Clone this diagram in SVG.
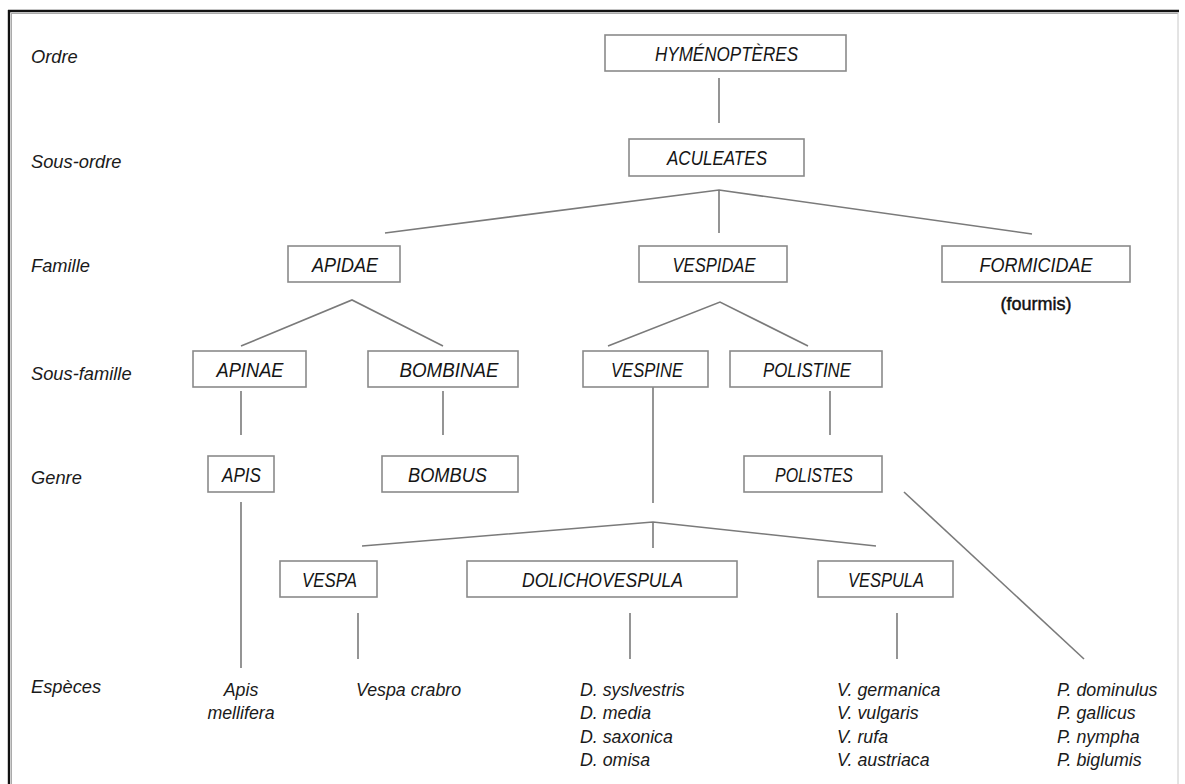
<svg xmlns="http://www.w3.org/2000/svg" width="1185" height="784" viewBox="0 0 1185 784">
<style>
.bg{fill:#ffffff}
.box{fill:#ffffff;stroke:#8a8a8a;stroke-width:1.6}
.nt{font-family:"Liberation Sans",Arial,sans-serif;font-style:italic;font-size:20.5px;fill:#151515;text-anchor:middle}
.lb{font-family:"Liberation Sans",Arial,sans-serif;font-style:italic;font-size:18.3px;fill:#1a1a1a}
.sp{font-family:"Liberation Sans",Arial,sans-serif;font-style:italic;font-size:17.8px;fill:#1a1a1a}
.spc{text-anchor:middle}
.fm{font-family:"Liberation Sans",Arial,sans-serif;font-size:18px;fill:#111;stroke:#111;stroke-width:0.45;text-anchor:middle}
.ln{stroke:#7a7a7a;stroke-width:1.6;fill:none}
</style>
<rect class="bg" x="0" y="0" width="1185" height="784"/>
<g id="frame">
<line x1="8" y1="11" x2="1179" y2="11" stroke="#111" stroke-width="2.4"/>
<line x1="9" y1="10" x2="9" y2="784" stroke="#111" stroke-width="2.4"/>
<line x1="11" y1="13.5" x2="1178" y2="13.5" stroke="#aaa" stroke-width="1"/>
<line x1="11.5" y1="13" x2="11.5" y2="784" stroke="#aaa" stroke-width="1"/>
<line x1="1178" y1="13" x2="1178" y2="784" stroke="#c8c8c8" stroke-width="1"/>
</g>
<g id="rank-labels">
<text class="lb" x="31" y="63">Ordre</text>
<text class="lb" x="31" y="168">Sous-ordre</text>
<text class="lb" x="31" y="272">Famille</text>
<text class="lb" x="31" y="380">Sous-famille</text>
<text class="lb" x="31" y="484">Genre</text>
<text class="lb" x="31" y="693">Espèces</text>
</g>
<g id="connectors">
<line class="ln" x1="719" y1="78" x2="719" y2="123"/>
<polyline class="ln" points="385,233 719,190 1032,234"/>
<line class="ln" x1="719" y1="190" x2="719" y2="233"/>
<polyline class="ln" points="241,346 352,300 443,346"/>
<polyline class="ln" points="608,346 720,302 808,346"/>
<line class="ln" x1="241" y1="391" x2="241" y2="435"/>
<line class="ln" x1="443" y1="391" x2="443" y2="435"/>
<line class="ln" x1="830" y1="391" x2="830" y2="435"/>
<line class="ln" x1="653" y1="387" x2="653" y2="503"/>
<polyline class="ln" points="362,546 653,522 876,546"/>
<line class="ln" x1="653" y1="522" x2="653" y2="548"/>
<line class="ln" x1="241" y1="502" x2="241" y2="668"/>
<line class="ln" x1="358" y1="613" x2="358" y2="659"/>
<line class="ln" x1="630" y1="613" x2="630" y2="659"/>
<line class="ln" x1="897" y1="613" x2="897" y2="659"/>
<line class="ln" x1="904" y1="492" x2="1084" y2="659"/>
</g>
<g id="n-hymenopteres"><rect class="box" x="605" y="35" width="241" height="36"/><text class="nt" x="726.5" y="60.5" textLength="143" lengthAdjust="spacingAndGlyphs">HYMÉNOPTÈRES</text></g>
<g id="n-aculeates"><rect class="box" x="629" y="139" width="175" height="37"/><text class="nt" x="717" y="165" textLength="100" lengthAdjust="spacingAndGlyphs">ACULEATES</text></g>
<g id="n-apidae"><rect class="box" x="288" y="246" width="112" height="36"/><text class="nt" x="345" y="271.5" textLength="66" lengthAdjust="spacingAndGlyphs">APIDAE</text></g>
<g id="n-vespidae"><rect class="box" x="639" y="246" width="148" height="36"/><text class="nt" x="714" y="271.5" textLength="83" lengthAdjust="spacingAndGlyphs">VESPIDAE</text></g>
<g id="n-formicidae"><rect class="box" x="942" y="246" width="188" height="36"/><text class="nt" x="1036" y="271.5" textLength="113" lengthAdjust="spacingAndGlyphs">FORMICIDAE</text><text class="fm" x="1036" y="310">(fourmis)</text></g>
<g id="n-apinae"><rect class="box" x="193" y="351" width="113" height="36"/><text class="nt" x="250" y="376.5" textLength="67" lengthAdjust="spacingAndGlyphs">APINAE</text></g>
<g id="n-bombinae"><rect class="box" x="368" y="351" width="150" height="36"/><text class="nt" x="449" y="376.5" textLength="99" lengthAdjust="spacingAndGlyphs">BOMBINAE</text></g>
<g id="n-vespine"><rect class="box" x="583" y="351" width="125" height="36"/><text class="nt" x="647" y="376.5" textLength="72" lengthAdjust="spacingAndGlyphs">VESPINE</text></g>
<g id="n-polistine"><rect class="box" x="730" y="351" width="152" height="36"/><text class="nt" x="807" y="376.5" textLength="88" lengthAdjust="spacingAndGlyphs">POLISTINE</text></g>
<g id="n-apis"><rect class="box" x="208" y="456" width="66" height="36"/><text class="nt" x="241.5" y="481.5" textLength="39" lengthAdjust="spacingAndGlyphs">APIS</text></g>
<g id="n-bombus"><rect class="box" x="382" y="456" width="136" height="36"/><text class="nt" x="447.5" y="481.5" textLength="79" lengthAdjust="spacingAndGlyphs">BOMBUS</text></g>
<g id="n-polistes"><rect class="box" x="744" y="456" width="138" height="36"/><text class="nt" x="814" y="481.5" textLength="78" lengthAdjust="spacingAndGlyphs">POLISTES</text></g>
<g id="n-vespa"><rect class="box" x="280" y="561" width="97" height="36"/><text class="nt" x="329.5" y="586.5" textLength="55" lengthAdjust="spacingAndGlyphs">VESPA</text></g>
<g id="n-dolichovespula"><rect class="box" x="467" y="561" width="270" height="36"/><text class="nt" x="602.5" y="586.5" textLength="161" lengthAdjust="spacingAndGlyphs">DOLICHOVESPULA</text></g>
<g id="n-vespula"><rect class="box" x="818" y="561" width="135" height="36"/><text class="nt" x="886" y="586.5" textLength="76" lengthAdjust="spacingAndGlyphs">VESPULA</text></g>
<g id="species">
<text class="sp spc" x="241" y="696">Apis</text>
<text class="sp spc" x="241" y="719">mellifera</text>
<text class="sp" x="356" y="696">Vespa crabro</text>
<text class="sp" x="580" y="696">D. syslvestris</text>
<text class="sp" x="580" y="719">D. media</text>
<text class="sp" x="580" y="743">D. saxonica</text>
<text class="sp" x="580" y="766">D. omisa</text>
<text class="sp" x="837" y="696">V. germanica</text>
<text class="sp" x="837" y="719">V. vulgaris</text>
<text class="sp" x="837" y="743">V. rufa</text>
<text class="sp" x="837" y="766">V. austriaca</text>
<text class="sp" x="1057" y="696">P. dominulus</text>
<text class="sp" x="1057" y="719">P. gallicus</text>
<text class="sp" x="1057" y="743">P. nympha</text>
<text class="sp" x="1057" y="766">P. biglumis</text>
</g>
</svg>
